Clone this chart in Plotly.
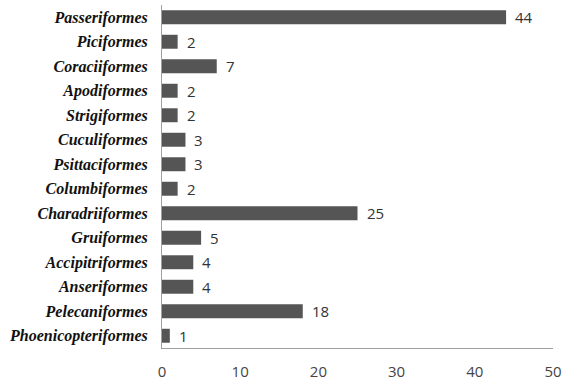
import plotly.graph_objects as go

orders = ["Passeriformes", "Piciformes", "Coraciiformes", "Apodiformes", "Strigiformes",
          "Cuculiformes", "Psittaciformes", "Columbiformes", "Charadriiformes", "Gruiformes",
          "Accipitriformes", "Anseriformes", "Pelecaniformes", "Phoenicopteriformes"]
counts = [44, 2, 7, 2, 2, 3, 3, 2, 25, 5, 4, 4, 18, 1]
x_ticks = [0, 10, 20, 30, 40, 50]

fig = go.Figure()
fig.add_trace(go.Bar(
    y=orders, x=counts, orientation="h",
    marker=dict(color="#555555", line=dict(width=0)),
    width=0.57,
))
for o, c in zip(orders, counts):
    fig.add_annotation(x=c, y=o, text=str(c), showarrow=False, xanchor="left",
                       xshift=7, font=dict(family="Open Sans", size=15, color="#333333"))

fig.update_layout(
    width=564, height=383,
    margin=dict(l=162, r=11, t=5, b=35),
    plot_bgcolor="white", paper_bgcolor="white",
    showlegend=False,
    xaxis=dict(range=[0, 50], tickvals=x_ticks, showgrid=False, zeroline=False,
               showline=True, linecolor="#a0a0a0", linewidth=1, ticks="",
               ticklabelstandoff=10, automargin=False,
               tickfont=dict(family="Open Sans", size=15, color="#444444")),
    yaxis=dict(categoryorder="array", categoryarray=orders[::-1], showgrid=False,
               zeroline=False, showline=True, linecolor="#a0a0a0", linewidth=1, ticks="",
               ticklabelstandoff=10, automargin=False,
               tickfont=dict(family="Liberation Serif", size=16,
                             color="#111111", weight="bold", style="italic")),
)
fig.write_html("out.html")
